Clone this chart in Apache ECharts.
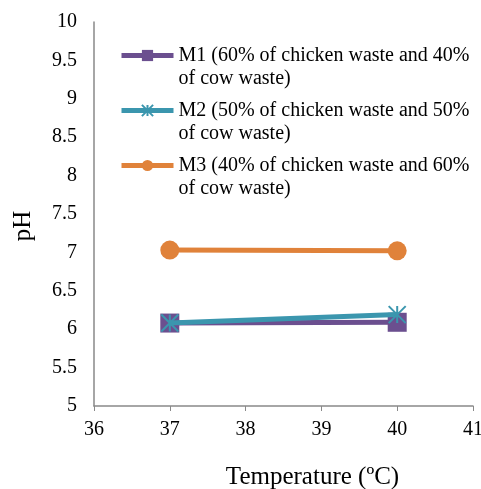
<!DOCTYPE html>
<html>
<head>
<meta charset="utf-8">
<script src="https://cdn.jsdelivr.net/npm/echarts@6/dist/echarts.min.js"></script>
<style>
  html, body { margin: 0; padding: 0; background: #fff; }
  #chart { width: 481px; height: 489px; }
</style>
</head>
<body>
<div id="chart"></div>
<script>
// Digestion temperature (ºC) and measured pH of each mixture
const temperatures = [37, 40];
const m1Values = [6.08, 6.09];
const m2Values = [6.08, 6.19];
const m3Values = [7.03, 7.02];

const seriesNames = [
  'M1 (60% of chicken waste and 40%\nof cow waste)',
  'M2 (50% of chicken waste and 50%\nof cow waste)',
  'M3 (40% of chicken waste and 60%\nof cow waste)'
];

const FONT = '"Liberation Serif", "Times New Roman", serif';
const AXIS_GREY = '#898989';

const asterisk = 'path://M5,0 L5,10 M0,0 L10,10 M0,10 L10,0';

function pairs(values) {
  return temperatures.map((t, i) => [t, values[i]]);
}

const chart = echarts.init(document.getElementById('chart'));
chart.setOption({
  animation: false,
  grid: { left: 94, right: 8, top: 22, bottom: 83, containLabel: false, outerBoundsMode: 'none' },
  legend: {
    orient: 'vertical',
    left: 119,
    top: 21,
    padding: 0,
    itemWidth: 52,
    itemHeight: 14,
    itemGap: -14,
    // leading blank line keeps the icon level with the first line of text
    formatter: name => '\n' + name,
    lineStyle: { width: 5 },
    textStyle: { fontFamily: FONT, fontSize: 20, color: '#000', lineHeight: 23 },
    data: seriesNames
  },
  xAxis: {
    type: 'value',
    min: 36, max: 41, interval: 1,
    name: 'Temperature (ºC)',
    nameLocation: 'middle',
    nameGap: 59,
    nameTextStyle: { fontFamily: FONT, fontSize: 25, color: '#000', padding: [0, 0, 0, 58] },
    axisLine: { show: true, lineStyle: { color: AXIS_GREY, width: 1.5 } },
    axisTick: { show: true, length: 5, lineStyle: { color: AXIS_GREY } },
    axisLabel: { fontFamily: FONT, fontSize: 20, color: '#000', margin: 14 },
    splitLine: { show: false }
  },
  yAxis: {
    type: 'value',
    min: 5, max: 10, interval: 0.5,
    name: 'pH',
    nameLocation: 'middle',
    nameRotate: 90,
    nameGap: 58,
    nameTextStyle: { fontFamily: FONT, fontSize: 25, color: '#000', padding: [0, 24, 0, 0] },
    axisLine: { show: true, lineStyle: { color: AXIS_GREY, width: 1.5 } },
    axisTick: { show: false },
    axisLabel: { fontFamily: FONT, fontSize: 20, color: '#000', margin: 17 },
    splitLine: { show: false }
  },
  series: [
    {
      name: seriesNames[0],
      type: 'line',
      data: pairs(m1Values),
      symbol: 'rect',
      symbolSize: 19,
      lineStyle: { color: '#6b4f8f', width: 5 },
      itemStyle: { color: '#6b4f8f' },
      z: 2
    },
    {
      name: seriesNames[1],
      type: 'line',
      data: pairs(m2Values),
      symbol: asterisk,
      symbolSize: 17,
      lineStyle: { color: '#3b96ae', width: 5 },
      itemStyle: { color: 'rgba(0,0,0,0)', borderColor: '#3b96ae', borderWidth: 2 },
      z: 3
    },
    {
      name: seriesNames[2],
      type: 'line',
      data: pairs(m3Values),
      symbol: 'circle',
      symbolSize: 19,
      lineStyle: { color: '#e0823a', width: 5 },
      itemStyle: { color: '#e0823a' },
      z: 4
    }
  ]
});
</script>
</body>
</html>
